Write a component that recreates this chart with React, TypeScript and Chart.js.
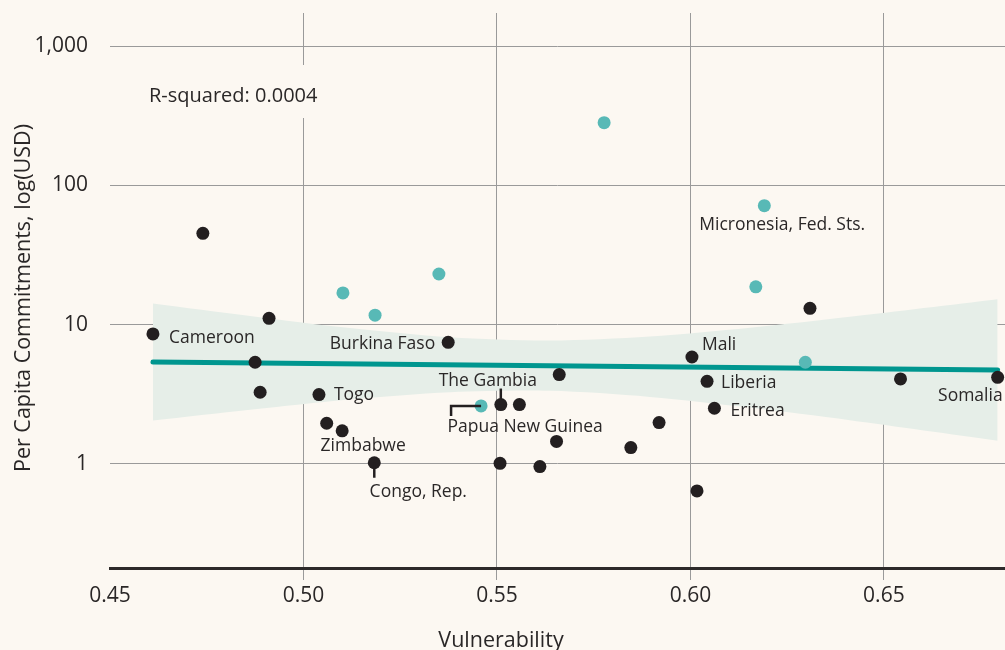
import React, { useEffect, useRef } from "react";
import { Chart, registerables } from "chart.js";

Chart.register(...registerables);

// ---- Data ----
const BLACK_X = [0.4611, 0.474, 0.4911, 0.4875, 0.4888, 0.504, 0.506, 0.51, 0.5183, 0.5374, 0.551, 0.5558, 0.5661, 0.5654, 0.5508, 0.5611, 0.5846, 0.5919, 0.6004, 0.6017, 0.6043, 0.6062, 0.6309, 0.6543, 0.6794];
const BLACK_Y = [8.58, 45.3, 11.1, 5.37, 3.27, 3.15, 1.96, 1.73, 1.02, 7.47, 2.67, 2.67, 4.38, 1.45, 1.01, 0.957, 1.31, 1.98, 5.86, 0.64, 3.92, 2.51, 13.1, 4.08, 4.19];
const BLACK_NAMES = ["Cameroon", "", "", "", "", "Togo", "", "Zimbabwe", "Congo, Rep.", "Burkina Faso", "The Gambia", "", "", "", "", "", "", "", "Mali", "", "Liberia", "Eritrea", "", "", "Somalia"];

const TEAL_X = [0.5102, 0.5185, 0.535, 0.5459, 0.5777, 0.6191, 0.6169, 0.6297];
const TEAL_Y = [16.9, 11.7, 23.1, 2.61, 282, 71.5, 18.7, 5.37];
const TEAL_NAMES = ["", "", "", "Papua New Guinea", "", "Micronesia, Fed. Sts.", "", ""];

const FIT_X = [0.4611, 0.6794];
const FIT_Y = [5.4, 4.73];

const BAND_X = [0.4611, 0.4862, 0.512, 0.5379, 0.5637, 0.5895, 0.6154, 0.6412, 0.6794];
const BAND_UPPER = [14.2, 11.55, 9.45, 8.12, 7.7, 8.23, 9.52, 11.4, 15.24];
const BAND_LOWER = [2.05, 2.45, 2.9, 3.27, 3.35, 3.03, 2.54, 2.06, 1.47];

const X_TICKS = [0.45, 0.5, 0.55, 0.6, 0.65];
const X_TICK_LABELS = ["0.45", "0.50", "0.55", "0.60", "0.65"];
const Y_TICKS = [1, 10, 100, 1000];
const Y_TICK_LABELS = ["1", "10", "100", "1,000"];

const R_SQUARED_TEXT = "R-squared: 0.0004";
const X_TITLE = "Vulnerability";
const Y_TITLE = "Per Capita Commitments, log(USD)";

// ---- Styles ----
const BG = "#fcf8f2";
const GRID = "#9a9a9a";
const TEXT = "#2a2727";
const DOT_BLACK = "#231f20";
const DOT_TEAL = "#58b9b6";
const FIT_COLOR = "#00968f";
const BAND_COLOR = "#e6eee8";
const FONT = "'Open Sans', sans-serif";

type LabelStyle = { dx: number; dy: number; align: CanvasTextAlign; leader?: [number, number][] };
const LABEL_STYLE: Record<string, LabelStyle> = {
  "Cameroon": { dx: 16, dy: 9, align: "left" },
  "Burkina Faso": { dx: -13, dy: 7, align: "right" },
  "Togo": { dx: 15, dy: 5, align: "left" },
  "Zimbabwe": { dx: 21, dy: 20, align: "center" },
  "Congo, Rep.": { dx: 44, dy: 34, align: "center", leader: [[0, 0], [0, 15]] },
  "The Gambia": { dx: -13, dy: -19, align: "center", leader: [[0, -16], [0, 0]] },
  "Papua New Guinea": { dx: 44, dy: 26, align: "center", leader: [[0, 0], [-30, 0], [-30, 10]] },
  "Mali": { dx: 10, dy: -7, align: "left" },
  "Liberia": { dx: 14, dy: 7, align: "left" },
  "Eritrea": { dx: 16, dy: 8, align: "left" },
  "Somalia": { dx: 5, dy: 24, align: "right" },
  "Micronesia, Fed. Sts.": { dx: -65, dy: 24, align: "left" },
};

const zeroPadding = (s: any) => {
  s.paddingTop = 0;
  s.paddingBottom = 0;
  s.paddingLeft = 0;
  s.paddingRight = 0;
};

const annotationPlugin = {
  id: "annotations",
  beforeDatasetsDraw(chart: any) {
    const { ctx, chartArea } = chart;
    ctx.save();
    ctx.fillStyle = BG;
    ctx.fillRect(chartArea.left + 30, chartArea.top + 52, 205, 53);
    ctx.fillStyle = TEXT;
    ctx.font = `20px ${FONT}`;
    ctx.textAlign = "left";
    ctx.textBaseline = "alphabetic";
    ctx.fillText(R_SQUARED_TEXT, chartArea.left + 39, chartArea.top + 89);
    ctx.restore();
  },
  afterDatasetsDraw(chart: any) {
    const { ctx } = chart;
    const xs = chart.scales.x;
    const ys = chart.scales.y;
    const draw = (xArr: number[], yArr: number[], names: string[]) => {
      names.forEach((name, i) => {
        if (!name) return;
        const st = LABEL_STYLE[name];
        if (!st) return;
        const px = xs.getPixelForValue(xArr[i]);
        const py = ys.getPixelForValue(yArr[i]);
        ctx.save();
        if (st.leader) {
          ctx.strokeStyle = DOT_BLACK;
          ctx.lineWidth = 2.5;
          ctx.beginPath();
          st.leader.forEach(([lx, ly], k) => {
            if (k === 0) ctx.moveTo(px + lx, py + ly);
            else ctx.lineTo(px + lx, py + ly);
          });
          ctx.stroke();
        }
        ctx.fillStyle = TEXT;
        ctx.font = `17.5px ${FONT}`;
        ctx.textAlign = st.align;
        ctx.textBaseline = "alphabetic";
        ctx.fillText(name, px + st.dx, py + st.dy);
        ctx.restore();
      });
    };
    draw(BLACK_X, BLACK_Y, BLACK_NAMES);
    draw(TEAL_X, TEAL_Y, TEAL_NAMES);
  },
  afterDraw(chart: any) {
    const { ctx } = chart;
    ctx.save();
    ctx.fillStyle = TEXT;
    ctx.font = `21.5px ${FONT}`;
    ctx.textAlign = "center";
    ctx.textBaseline = "alphabetic";
    ctx.fillText(X_TITLE, 501, 647);
    ctx.translate(30, 298);
    ctx.rotate(-Math.PI / 2);
    ctx.fillText(Y_TITLE, 0, 0);
    ctx.restore();
  },
};

export default function App() {
  const ref = useRef<HTMLCanvasElement | null>(null);
  useEffect(() => {
    if (!ref.current) return;
    const chart = new Chart(ref.current, {
      type: "scatter",
      data: {
        datasets: [
          {
            data: BLACK_X.map((x, i) => ({ x, y: BLACK_Y[i] })),
            backgroundColor: DOT_BLACK,
            borderWidth: 0,
            pointRadius: 6.5,
            order: 0,
          },
          {
            data: TEAL_X.map((x, i) => ({ x, y: TEAL_Y[i] })),
            backgroundColor: DOT_TEAL,
            borderWidth: 0,
            pointRadius: 6.5,
            order: 0,
          },
          {
            type: "line",
            data: FIT_X.map((x, i) => ({ x, y: FIT_Y[i] })),
            borderColor: FIT_COLOR,
            borderWidth: 5,
            borderCapStyle: "round",
            pointRadius: 0,
            fill: false,
            order: 1,
          },
          {
            type: "line",
            data: BAND_X.map((x, i) => ({ x, y: BAND_UPPER[i] })),
            borderWidth: 0,
            borderColor: "rgba(0,0,0,0)",
            backgroundColor: BAND_COLOR,
            pointRadius: 0,
            tension: 0.3,
            fill: "+1",
            order: 2,
          },
          {
            type: "line",
            data: BAND_X.map((x, i) => ({ x, y: BAND_LOWER[i] })),
            borderWidth: 0,
            borderColor: "rgba(0,0,0,0)",
            pointRadius: 0,
            tension: 0.3,
            fill: false,
            order: 3,
          },
        ] as any,
      },
      options: {
        responsive: false,
        animation: false,
        devicePixelRatio: 1,
        layout: { autoPadding: false, padding: { top: 13, right: 0, left: 0, bottom: 0 } },
        plugins: { legend: { display: false }, tooltip: { enabled: false } },
        scales: {
          x: {
            type: "linear",
            min: 0.45,
            max: 0.6813,
            afterBuildTicks: (s: any) => {
              s.ticks = X_TICKS.map((v) => ({ value: v }));
            },
            afterFit: (s: any) => {
              s.height = 82;
              zeroPadding(s);
            },
            ticks: {
              color: TEXT,
              font: { family: FONT, size: 21 },
              padding: 3,
              maxRotation: 0,
              callback: (v: any) => X_TICK_LABELS[X_TICKS.indexOf(Number(v))] ?? "",
            },
            grid: {
              color: (c: any) => (c.tick && Math.abs(c.tick.value - 0.45) < 1e-9 ? "rgba(0,0,0,0)" : GRID),
              lineWidth: 1,
              tickLength: 12,
              drawTicks: true,
            },
            border: { display: true, color: "#2d2a2a", width: 3 },
          },
          y: {
            type: "logarithmic",
            min: 0.179,
            max: 1729,
            afterBuildTicks: (s: any) => {
              s.ticks = Y_TICKS.map((v) => ({ value: v }));
            },
            afterFit: (s: any) => {
              s.width = 110;
              zeroPadding(s);
            },
            ticks: {
              color: TEXT,
              font: { family: FONT, size: 21 },
              padding: 22,
              callback: (v: any) => Y_TICK_LABELS[Y_TICKS.indexOf(Number(v))] ?? "",
            },
            grid: { color: GRID, lineWidth: 1, drawTicks: false },
            border: { display: false },
          },
        },
      } as any,
      plugins: [annotationPlugin],
    });
    return () => chart.destroy();
  }, []);
  return (
    <div style={{ position: "fixed", left: 0, top: 0, width: 1005, height: 650, background: BG }}>
      <canvas ref={ref} width={1005} height={650} style={{ width: 1005, height: 650, display: "block" }} />
    </div>
  );
}
